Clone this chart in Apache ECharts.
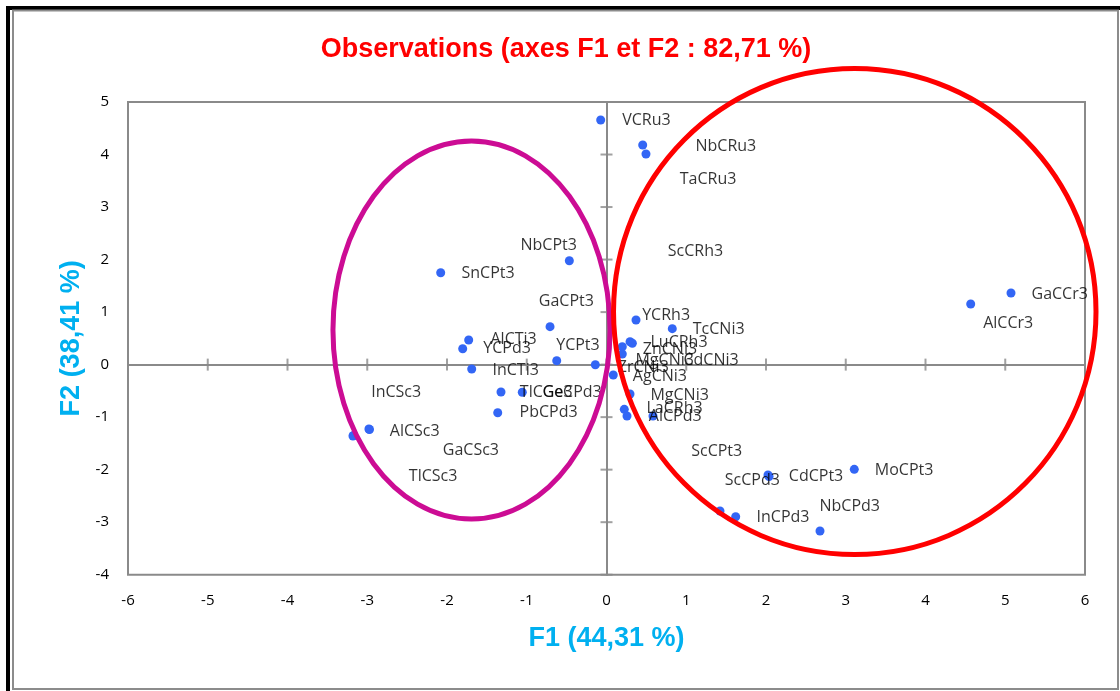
<!DOCTYPE html>
<html><head><meta charset="utf-8">
<script src="https://cdn.jsdelivr.net/npm/echarts@6/dist/echarts.min.js"></script>
<style>html,body{margin:0;padding:0;background:#fff}#c{width:1120px;height:691px}</style>
</head><body><div id="c"></div>
<script>
// Observations (names) and their coordinates on F1 / F2
const names = ['VCRu3','NbCRu3','TaCRu3','NbCPt3','SnCPt3','GaCPt3','AlCTi3','YCPd3','InCTi3','YCPt3',
  'ZrCNi3','TlCGe3','GeCPd3','PbCPd3','InCSc3','AlCSc3','GaCSc3','TlCSc3','YCRh3','TcCNi3',
  'LuCRh3','CdCNi3','ZnCNi3','MgCNi3','AgCNi3','MgCNi3','LaCRh3','ScCRh3','AlCPd3','GaCCr3',
  'AlCCr3','ScCPt3','ScCPd3','CdCPt3','MoCPt3','InCPd3','NbCPd3'];
const f1 = [-0.073,0.454,0.495,-0.466,-2.079,-0.708,-1.728,-1.803,-1.690,-0.624,
  -0.140,-1.323,-1.056,-1.364,-3.179,-2.979,-2.972,-3.172,0.370,0.825,
  0.295,0.324,0.198,0.198,0.085,0.295,0.223,0.257,0.583,5.072,
  4.567,1.423,2.025,2.038,3.107,1.620,2.677];
const f2 = [4.657,4.181,4.010,1.978,1.750,0.722,0.468,0.303,-0.084,0.074,
  -0.002,-0.522,-0.527,-0.916,-1.359,-1.226,-1.236,-1.350,0.849,0.684,
  0.436,0.406,0.341,0.202,-0.198,-0.560,-0.851,-0.979,-0.979,1.363,
  1.154,-2.788,-2.102,-2.131,-1.994,-2.896,-3.168];
// label anchor (left-middle of each label) in F1 / F2 units
const labelF1 = [0.191,1.110,0.913,-1.085,-1.824,-0.855,-1.461,-1.552,-1.436,-0.637,
  0.135,-1.093,-0.809,-1.097,-2.957,-2.724,-2.059,-2.485,0.441,1.076,
  0.545,0.959,0.449,0.357,0.324,0.545,0.495,0.762,0.524,5.323,
  4.717,1.056,1.477,2.280,3.358,1.875,2.665];
const labelF2 = [4.657,4.149,3.528,2.277,1.738,1.211,0.482,0.310,-0.103,0.360,
  -0.051,-0.535,-0.535,-0.916,-0.527,-1.278,-1.639,-2.121,0.944,0.672,
  0.417,0.088,0.297,0.088,-0.217,-0.579,-0.832,2.150,-0.992,1.344,
  0.786,-1.658,-2.211,-2.134,-2.020,-2.907,-2.706];
const xTicks = [-6,-5,-4,-3,-2,-1,0,1,2,3,4,5,6];
const yTicks = [-4,-3,-2,-1,0,1,2,3,4,5];
// ellipses (centre and radii in F1 / F2 units)
const ellipseCentreF1 = [-1.693, 3.113];
const ellipseCentreF2 = [0.659, 1.011];
const ellipseRadiusF1 = [1.737, 3.025];
const ellipseRadiusF2 = [3.599, 4.627];
const ellipseColors = ['#CC0C94', '#FF0000'];

const titleText = 'Observations (axes F1 et F2 : 82,71 %)';
const xName = 'F1 (44,31 %)';
const yName = 'F2 (38,41 %)';

const chart = echarts.init(document.getElementById('c'), null, {renderer:'canvas'});
const pts = names.map((n,i)=>({name:n, value:[f1[i], f2[i]]}));
const lbls = names.map((n,i)=>({name:n, value:[labelF1[i], labelF2[i]]}));
const labelFont = "'Open Sans', sans-serif";
const boldFont = "'Liberation Sans', sans-serif";
const axisGray = '#8A8A8A';

const valAxisBase = {type:'value', splitLine:{show:false}, scale:false};
chart.setOption({
  animation:false,
  backgroundColor:'#fff',
  grid:{left:128, right:35, top:102, bottom:116.3, show:true, borderColor:axisGray, borderWidth:2, backgroundColor:'transparent'},
  xAxis:[
    Object.assign({}, valAxisBase, {min:-6, max:6, interval:1, position:'bottom',
      axisLine:{show:false, onZero:false}, axisTick:{show:false},
      axisLabel:{margin:19, fontSize:15, color:'#000', fontFamily:labelFont, formatter: v => String(v)},
      name:xName, nameLocation:'middle', nameGap:50,
      nameTextStyle:{color:'#00B0F0', fontWeight:'bold', fontSize:27, fontFamily:boldFont}}),
    Object.assign({}, valAxisBase, {min:-6, max:6, interval:1, position:'top',
      axisLine:{show:true, onZero:true, onZeroAxisIndex:0, lineStyle:{color:axisGray, width:2}},
      axisTick:{show:false}, axisLabel:{show:false}})
  ],
  yAxis:[
    Object.assign({}, valAxisBase, {min:-4, max:5, interval:1, position:'left',
      axisLine:{show:false, onZero:false}, axisTick:{show:false},
      axisLabel:{margin:19, fontSize:15, color:'#000', fontFamily:labelFont, formatter: v => String(v)},
      name:yName, nameLocation:'middle', nameGap:28,
      nameTextStyle:{color:'#00B0F0', fontWeight:'bold', fontSize:27, fontFamily:boldFont}}),
    Object.assign({}, valAxisBase, {min:-4, max:5, interval:1, position:'right',
      axisLine:{show:true, onZero:true, onZeroAxisIndex:0, lineStyle:{color:axisGray, width:2}},
      axisTick:{show:false}, axisLabel:{show:false}})
  ],
  series:[
    {type:'scatter', name:'xticks', xAxisIndex:0, yAxisIndex:0, silent:true, z:2,
      symbol:'rect', symbolSize:[2,12], itemStyle:{color:axisGray},
      data: xTicks.map(v=>[v,0])},
    {type:'scatter', name:'yticks', xAxisIndex:0, yAxisIndex:0, silent:true, z:2,
      symbol:'rect', symbolSize:[12,2], itemStyle:{color:axisGray},
      data: yTicks.map(v=>[0,v])},
    {type:'scatter', name:'Observations', xAxisIndex:0, yAxisIndex:0, z:3, clip:false,
      symbol:'circle', symbolSize:9, itemStyle:{color:'#3366F5', opacity:1},
      data: pts},
    {type:'scatter', name:'labels', xAxisIndex:0, yAxisIndex:0, z:4, clip:false, silent:true,
      symbol:'circle', symbolSize:1, itemStyle:{color:'rgba(0,0,0,0)'},
      label:{show:true, position:'right', distance:0, formatter:'{b}', color:'#000', fontSize:16, fontFamily:labelFont},
      labelLayout:{hideOverlap:false},
      data: lbls}
  ]
});

function drawOverlay(){
  const graphics = [];
  graphics.push({type:'rect', shape:{x:6, y:6, width:1114, height:4}, style:{fill:'#000'}, z:100});
  graphics.push({type:'rect', shape:{x:6, y:6, width:4, height:685}, style:{fill:'#000'}, z:100});
  graphics.push({type:'rect', shape:{x:13, y:10.5, width:1105, height:678.5}, style:{fill:'none', stroke:'#8C8C8C', lineWidth:2}, z:100});
  graphics.push({type:'text', x:566, y:50, z:100, style:{text:titleText, fill:'#FF0000', font:"bold 27px 'Liberation Sans', sans-serif", align:'center', verticalAlign:'middle'}});
  for (let i=0;i<ellipseColors.length;i++){
    const c = chart.convertToPixel({gridIndex:0}, [ellipseCentreF1[i], ellipseCentreF2[i]]);
    const e = chart.convertToPixel({gridIndex:0}, [ellipseCentreF1[i]+ellipseRadiusF1[i], ellipseCentreF2[i]+ellipseRadiusF2[i]]);
    graphics.push({type:'ellipse', z:90, shape:{cx:c[0], cy:c[1], rx:Math.abs(e[0]-c[0]), ry:Math.abs(c[1]-e[1])},
      style:{fill:'none', stroke:ellipseColors[i], lineWidth:5}});
  }
  chart.setOption({graphic:graphics});
}
drawOverlay();
</script></body></html>
